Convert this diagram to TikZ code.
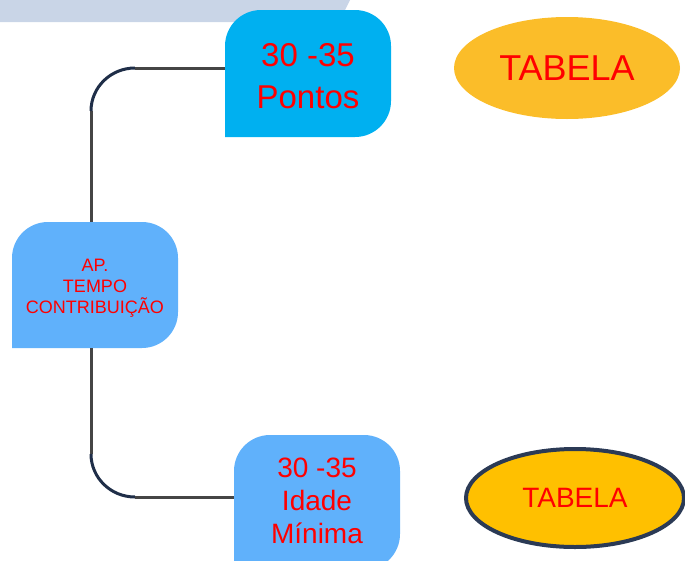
\documentclass[tikz,border=0pt]{standalone}
\usepackage{fontspec}
\setmainfont{Liberation Sans}
\usetikzlibrary{shapes.geometric}
\definecolor{banner}{HTML}{C9D5E7}
\definecolor{cyanbox}{HTML}{00B0F0}
\definecolor{lightbox}{HTML}{60B1FB}
\definecolor{ellA}{HTML}{FBBD29}
\definecolor{ellB}{HTML}{FFC000}
\definecolor{navy}{HTML}{1F2E48}
\definecolor{navyB}{HTML}{2B3A55}
\definecolor{linegray}{HTML}{454545}
\definecolor{txtred}{HTML}{FF0000}
\tikzset{
  boxtext/.style={text=txtred, align=center, inner sep=0pt},
  conn/.style={draw=linegray, line width=3pt},
  connarc/.style={draw=navy, line width=3pt},
  ellnode/.style={ellipse, inner sep=0pt, text=txtred}
}
\begin{document}
\begin{tikzpicture}[x=1pt,y=-1pt]
\useasboundingbox (0,0) rectangle (685,560);
\clip (0,0) rectangle (685,560);
% banner
\fill[banner] (0,0) -- (350,0) -- (339,22) -- (0,22) -- cycle;
% box shapes
\fill[cyanbox, rounded corners=36] (225,137) -- (225,10) -- (391,10) -- (391,137) -- (225,137);
\fill[lightbox, rounded corners=36] (12,348) -- (12,222) -- (178,222) -- (178,348) -- (12,348);
\fill[lightbox, rounded corners=36] (234,570) -- (234,435) -- (400,435) -- (400,570) -- (234,570);
% nodes
\node[boxtext, minimum width=166pt, minimum height=127pt] (top) at (308,73.5) {};
\node[boxtext, font=\fontsize{33}{42}\selectfont] (topT) at (308,76.5) {30 -35\\Pontos};
\node[boxtext, minimum width=166pt, minimum height=126pt] (mid) at (95,285) {};
\node[boxtext, font=\fontsize{18}{21}\selectfont] (midT) at (95,288) {AP.\\TEMPO\\CONTRIBUIÇÃO};
\node[boxtext, minimum width=166pt, minimum height=130pt] (bot) at (317,500) {};
\node[boxtext, font=\fontsize{28}{33}\selectfont] (botT) at (317,500.5) {30 -35\\Idade\\Mínima};
\node[ellnode, fill=ellA, minimum width=226pt, minimum height=102pt, font=\fontsize{36}{40}\selectfont] (tabA) at (567,68) {TABELA};
\node[ellnode, fill=ellB, draw=navyB, line width=4pt, minimum width=218pt, minimum height=98pt, font=\fontsize{28}{32}\selectfont] (tabB) at (575,498) {TABELA};
% connector coordinates
\coordinate (u1) at (91,111);
\coordinate (u2) at (135,68);
\coordinate (d1) at (91,454);
\coordinate (d2) at (135,497);
% connectors
\draw[conn] (u1 |- mid.north) -- (u1);
\draw[connarc] (u1) arc[start angle=180, end angle=90, x radius=44, y radius=-43];
\draw[conn] (u2) -- (u2 -| top.west);
\draw[conn] (d1 |- mid.south) -- (d1);
\draw[connarc] (d1) arc[start angle=180, end angle=270, x radius=44, y radius=-43];
\draw[conn] (d2) -- (d2 -| bot.west);
\end{tikzpicture}
\end{document}
